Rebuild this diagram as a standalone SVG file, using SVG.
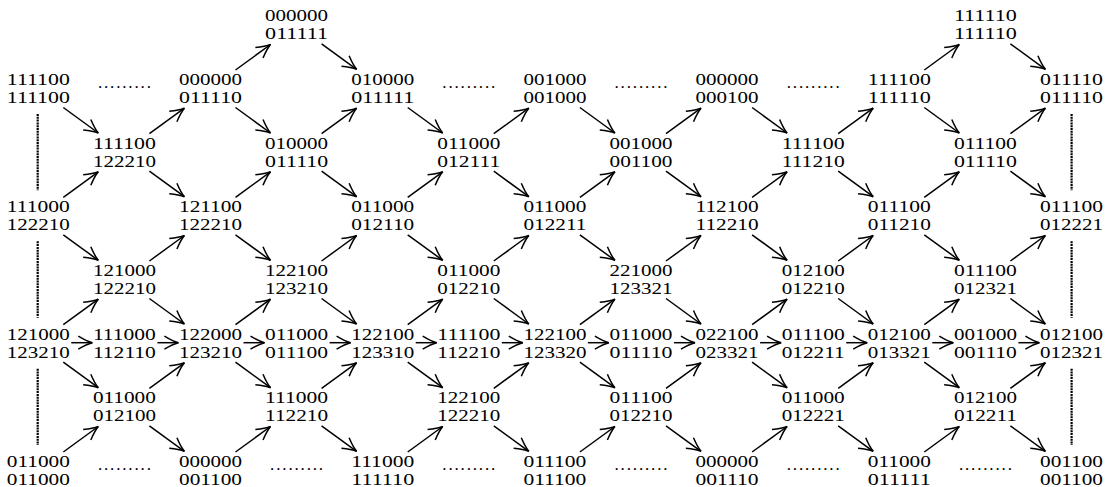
<svg xmlns="http://www.w3.org/2000/svg" xmlns:xlink="http://www.w3.org/1999/xlink" width="1107" height="487" viewBox="0 0 1107 487">
<style>
text{font-family:"Liberation Serif","DejaVu Serif",serif;font-size:17px;fill:#000;text-anchor:middle}
.e{stroke:#000;stroke-width:1.5;fill:none;marker-end:url(#ah)}
.d{stroke:#000;stroke-width:2.2;stroke-dasharray:2 0.8;fill:none}
</style>
<defs>
<marker id="ah" viewBox="-16 -8 18 16" markerWidth="18" markerHeight="16" refX="0" refY="0" orient="auto" markerUnits="userSpaceOnUse">
<path d="M-14,-6.5 Q-5.5,-1.4 0,0 Q-5.5,1.4 -14,6.5" fill="none" stroke="#000" stroke-width="1.5"/>
</marker>
<line id="dn" class="e" x1="25" y1="22.5" x2="60" y2="48"/>
<line id="up" class="e" x1="25" y1="-15" x2="60" y2="-40.5"/>
<line id="hz" class="e" x1="33" y1="3" x2="54" y2="3"/>
</defs>
<rect width="1107" height="487" fill="#fff"/>
<g id="connectors">
<line class="d" x1="37.7" y1="114" x2="37.7" y2="190.3"/>
<line class="d" x1="37.7" y1="241.3" x2="37.7" y2="317.7"/>
<line class="d" x1="37.7" y1="368.7" x2="37.7" y2="445"/>
<line class="d" x1="1071.6" y1="114" x2="1071.6" y2="190.3"/>
<line class="d" x1="1071.6" y1="241.3" x2="1071.6" y2="317.7"/>
<line class="d" x1="1071.6" y1="368.7" x2="1071.6" y2="445"/>
<use href="#dn" x="38.3" y="85"/><use href="#dn" x="38.3" y="212.3"/><use href="#dn" x="38.3" y="339.7"/>
<use href="#dn" x="210.5" y="85"/><use href="#dn" x="210.5" y="212.3"/><use href="#dn" x="210.5" y="339.7"/>
<use href="#dn" x="382.7" y="85"/><use href="#dn" x="382.7" y="212.3"/><use href="#dn" x="382.7" y="339.7"/>
<use href="#dn" x="554.9" y="85"/><use href="#dn" x="554.9" y="212.3"/><use href="#dn" x="554.9" y="339.7"/>
<use href="#dn" x="727.1" y="85"/><use href="#dn" x="727.1" y="212.3"/><use href="#dn" x="727.1" y="339.7"/>
<use href="#dn" x="899.3" y="85"/><use href="#dn" x="899.3" y="212.3"/><use href="#dn" x="899.3" y="339.7"/>
<use href="#dn" x="296.6" y="21.3"/><use href="#dn" x="985.4" y="21.3"/>
<use href="#dn" x="124.4" y="148.7"/><use href="#dn" x="124.4" y="276"/><use href="#dn" x="124.4" y="403.3"/>
<use href="#dn" x="296.6" y="148.7"/><use href="#dn" x="296.6" y="276"/><use href="#dn" x="296.6" y="403.3"/>
<use href="#dn" x="468.8" y="148.7"/><use href="#dn" x="468.8" y="276"/><use href="#dn" x="468.8" y="403.3"/>
<use href="#dn" x="641" y="148.7"/><use href="#dn" x="641" y="276"/><use href="#dn" x="641" y="403.3"/>
<use href="#dn" x="813.2" y="148.7"/><use href="#dn" x="813.2" y="276"/><use href="#dn" x="813.2" y="403.3"/>
<use href="#dn" x="985.4" y="148.7"/><use href="#dn" x="985.4" y="276"/><use href="#dn" x="985.4" y="403.3"/>
<use href="#up" x="210.5" y="85"/><use href="#up" x="899.3" y="85"/>
<use href="#up" x="38.3" y="212.3"/><use href="#up" x="38.3" y="339.7"/><use href="#up" x="38.3" y="467"/>
<use href="#up" x="210.5" y="212.3"/><use href="#up" x="210.5" y="339.7"/><use href="#up" x="210.5" y="467"/>
<use href="#up" x="382.7" y="212.3"/><use href="#up" x="382.7" y="339.7"/><use href="#up" x="382.7" y="467"/>
<use href="#up" x="554.9" y="212.3"/><use href="#up" x="554.9" y="339.7"/><use href="#up" x="554.9" y="467"/>
<use href="#up" x="727.1" y="212.3"/><use href="#up" x="727.1" y="339.7"/><use href="#up" x="727.1" y="467"/>
<use href="#up" x="899.3" y="212.3"/><use href="#up" x="899.3" y="339.7"/><use href="#up" x="899.3" y="467"/>
<use href="#up" x="124.4" y="148.7"/><use href="#up" x="124.4" y="276"/><use href="#up" x="124.4" y="403.3"/>
<use href="#up" x="296.6" y="148.7"/><use href="#up" x="296.6" y="276"/><use href="#up" x="296.6" y="403.3"/>
<use href="#up" x="468.8" y="148.7"/><use href="#up" x="468.8" y="276"/><use href="#up" x="468.8" y="403.3"/>
<use href="#up" x="641" y="148.7"/><use href="#up" x="641" y="276"/><use href="#up" x="641" y="403.3"/>
<use href="#up" x="813.2" y="148.7"/><use href="#up" x="813.2" y="276"/><use href="#up" x="813.2" y="403.3"/>
<use href="#up" x="985.4" y="148.7"/><use href="#up" x="985.4" y="276"/><use href="#up" x="985.4" y="403.3"/>
<use href="#hz" x="38.3" y="339.7"/><use href="#hz" x="124.4" y="339.7"/><use href="#hz" x="210.5" y="339.7"/>
<use href="#hz" x="296.6" y="339.7"/><use href="#hz" x="382.7" y="339.7"/><use href="#hz" x="468.8" y="339.7"/>
<use href="#hz" x="554.9" y="339.7"/><use href="#hz" x="641" y="339.7"/><use href="#hz" x="727.1" y="339.7"/>
<use href="#hz" x="813.2" y="339.7"/><use href="#hz" x="899.3" y="339.7"/><use href="#hz" x="985.4" y="339.7"/>
</g>
<g id="dots">
<text x="124.4" y="88" textLength="53" lengthAdjust="spacing">.........</text>
<text x="468.8" y="88" textLength="53" lengthAdjust="spacing">.........</text>
<text x="641" y="88" textLength="53" lengthAdjust="spacing">.........</text>
<text x="813.2" y="88" textLength="53" lengthAdjust="spacing">.........</text>
<text x="124.4" y="470" textLength="53" lengthAdjust="spacing">.........</text>
<text x="296.6" y="470" textLength="53" lengthAdjust="spacing">.........</text>
<text x="468.8" y="470" textLength="53" lengthAdjust="spacing">.........</text>
<text x="641" y="470" textLength="53" lengthAdjust="spacing">.........</text>
<text x="813.2" y="470" textLength="53" lengthAdjust="spacing">.........</text>
<text x="985.4" y="470" textLength="53" lengthAdjust="spacing">.........</text>
</g>
<g id="n3m1"><text x="296.6" y="21.3" textLength="63" lengthAdjust="spacingAndGlyphs">000000</text><text x="296.6" y="39.3" textLength="63" lengthAdjust="spacingAndGlyphs">011111</text></g>
<g id="n11m1"><text x="985.4" y="21.3" textLength="63" lengthAdjust="spacingAndGlyphs">111110</text><text x="985.4" y="39.3" textLength="63" lengthAdjust="spacingAndGlyphs">111110</text></g>
<g id="n0r0"><text x="38.3" y="85" textLength="63" lengthAdjust="spacingAndGlyphs">111100</text><text x="38.3" y="103" textLength="63" lengthAdjust="spacingAndGlyphs">111100</text></g>
<g id="n2r0"><text x="210.5" y="85" textLength="63" lengthAdjust="spacingAndGlyphs">000000</text><text x="210.5" y="103" textLength="63" lengthAdjust="spacingAndGlyphs">011110</text></g>
<g id="n4r0"><text x="382.7" y="85" textLength="63" lengthAdjust="spacingAndGlyphs">010000</text><text x="382.7" y="103" textLength="63" lengthAdjust="spacingAndGlyphs">011111</text></g>
<g id="n6r0"><text x="554.9" y="85" textLength="63" lengthAdjust="spacingAndGlyphs">001000</text><text x="554.9" y="103" textLength="63" lengthAdjust="spacingAndGlyphs">001000</text></g>
<g id="n8r0"><text x="727.1" y="85" textLength="63" lengthAdjust="spacingAndGlyphs">000000</text><text x="727.1" y="103" textLength="63" lengthAdjust="spacingAndGlyphs">000100</text></g>
<g id="n10r0"><text x="899.3" y="85" textLength="63" lengthAdjust="spacingAndGlyphs">111100</text><text x="899.3" y="103" textLength="63" lengthAdjust="spacingAndGlyphs">111110</text></g>
<g id="n12r0"><text x="1071.5" y="85" textLength="63" lengthAdjust="spacingAndGlyphs">011110</text><text x="1071.5" y="103" textLength="63" lengthAdjust="spacingAndGlyphs">011110</text></g>
<g id="n1r1"><text x="124.4" y="148.7" textLength="63" lengthAdjust="spacingAndGlyphs">111100</text><text x="124.4" y="166.7" textLength="63" lengthAdjust="spacingAndGlyphs">122210</text></g>
<g id="n3r1"><text x="296.6" y="148.7" textLength="63" lengthAdjust="spacingAndGlyphs">010000</text><text x="296.6" y="166.7" textLength="63" lengthAdjust="spacingAndGlyphs">011110</text></g>
<g id="n5r1"><text x="468.8" y="148.7" textLength="63" lengthAdjust="spacingAndGlyphs">011000</text><text x="468.8" y="166.7" textLength="63" lengthAdjust="spacingAndGlyphs">012111</text></g>
<g id="n7r1"><text x="641" y="148.7" textLength="63" lengthAdjust="spacingAndGlyphs">001000</text><text x="641" y="166.7" textLength="63" lengthAdjust="spacingAndGlyphs">001100</text></g>
<g id="n9r1"><text x="813.2" y="148.7" textLength="63" lengthAdjust="spacingAndGlyphs">111100</text><text x="813.2" y="166.7" textLength="63" lengthAdjust="spacingAndGlyphs">111210</text></g>
<g id="n11r1"><text x="985.4" y="148.7" textLength="63" lengthAdjust="spacingAndGlyphs">011100</text><text x="985.4" y="166.7" textLength="63" lengthAdjust="spacingAndGlyphs">011110</text></g>
<g id="n0r2"><text x="38.3" y="212.3" textLength="63" lengthAdjust="spacingAndGlyphs">111000</text><text x="38.3" y="230.3" textLength="63" lengthAdjust="spacingAndGlyphs">122210</text></g>
<g id="n2r2"><text x="210.5" y="212.3" textLength="63" lengthAdjust="spacingAndGlyphs">121100</text><text x="210.5" y="230.3" textLength="63" lengthAdjust="spacingAndGlyphs">122210</text></g>
<g id="n4r2"><text x="382.7" y="212.3" textLength="63" lengthAdjust="spacingAndGlyphs">011000</text><text x="382.7" y="230.3" textLength="63" lengthAdjust="spacingAndGlyphs">012110</text></g>
<g id="n6r2"><text x="554.9" y="212.3" textLength="63" lengthAdjust="spacingAndGlyphs">011000</text><text x="554.9" y="230.3" textLength="63" lengthAdjust="spacingAndGlyphs">012211</text></g>
<g id="n8r2"><text x="727.1" y="212.3" textLength="63" lengthAdjust="spacingAndGlyphs">112100</text><text x="727.1" y="230.3" textLength="63" lengthAdjust="spacingAndGlyphs">112210</text></g>
<g id="n10r2"><text x="899.3" y="212.3" textLength="63" lengthAdjust="spacingAndGlyphs">011100</text><text x="899.3" y="230.3" textLength="63" lengthAdjust="spacingAndGlyphs">011210</text></g>
<g id="n12r2"><text x="1071.5" y="212.3" textLength="63" lengthAdjust="spacingAndGlyphs">011100</text><text x="1071.5" y="230.3" textLength="63" lengthAdjust="spacingAndGlyphs">012221</text></g>
<g id="n1r3"><text x="124.4" y="276" textLength="63" lengthAdjust="spacingAndGlyphs">121000</text><text x="124.4" y="294" textLength="63" lengthAdjust="spacingAndGlyphs">122210</text></g>
<g id="n3r3"><text x="296.6" y="276" textLength="63" lengthAdjust="spacingAndGlyphs">122100</text><text x="296.6" y="294" textLength="63" lengthAdjust="spacingAndGlyphs">123210</text></g>
<g id="n5r3"><text x="468.8" y="276" textLength="63" lengthAdjust="spacingAndGlyphs">011000</text><text x="468.8" y="294" textLength="63" lengthAdjust="spacingAndGlyphs">012210</text></g>
<g id="n7r3"><text x="641" y="276" textLength="63" lengthAdjust="spacingAndGlyphs">221000</text><text x="641" y="294" textLength="63" lengthAdjust="spacingAndGlyphs">123321</text></g>
<g id="n9r3"><text x="813.2" y="276" textLength="63" lengthAdjust="spacingAndGlyphs">012100</text><text x="813.2" y="294" textLength="63" lengthAdjust="spacingAndGlyphs">012210</text></g>
<g id="n11r3"><text x="985.4" y="276" textLength="63" lengthAdjust="spacingAndGlyphs">011100</text><text x="985.4" y="294" textLength="63" lengthAdjust="spacingAndGlyphs">012321</text></g>
<g id="n0r4"><text x="38.3" y="339.7" textLength="63" lengthAdjust="spacingAndGlyphs">121000</text><text x="38.3" y="357.7" textLength="63" lengthAdjust="spacingAndGlyphs">123210</text></g>
<g id="n1r4"><text x="124.4" y="339.7" textLength="63" lengthAdjust="spacingAndGlyphs">111000</text><text x="124.4" y="357.7" textLength="63" lengthAdjust="spacingAndGlyphs">112110</text></g>
<g id="n2r4"><text x="210.5" y="339.7" textLength="63" lengthAdjust="spacingAndGlyphs">122000</text><text x="210.5" y="357.7" textLength="63" lengthAdjust="spacingAndGlyphs">123210</text></g>
<g id="n3r4"><text x="296.6" y="339.7" textLength="63" lengthAdjust="spacingAndGlyphs">011000</text><text x="296.6" y="357.7" textLength="63" lengthAdjust="spacingAndGlyphs">011100</text></g>
<g id="n4r4"><text x="382.7" y="339.7" textLength="63" lengthAdjust="spacingAndGlyphs">122100</text><text x="382.7" y="357.7" textLength="63" lengthAdjust="spacingAndGlyphs">123310</text></g>
<g id="n5r4"><text x="468.8" y="339.7" textLength="63" lengthAdjust="spacingAndGlyphs">111100</text><text x="468.8" y="357.7" textLength="63" lengthAdjust="spacingAndGlyphs">112210</text></g>
<g id="n6r4"><text x="554.9" y="339.7" textLength="63" lengthAdjust="spacingAndGlyphs">122100</text><text x="554.9" y="357.7" textLength="63" lengthAdjust="spacingAndGlyphs">123320</text></g>
<g id="n7r4"><text x="641" y="339.7" textLength="63" lengthAdjust="spacingAndGlyphs">011000</text><text x="641" y="357.7" textLength="63" lengthAdjust="spacingAndGlyphs">011110</text></g>
<g id="n8r4"><text x="727.1" y="339.7" textLength="63" lengthAdjust="spacingAndGlyphs">022100</text><text x="727.1" y="357.7" textLength="63" lengthAdjust="spacingAndGlyphs">023321</text></g>
<g id="n9r4"><text x="813.2" y="339.7" textLength="63" lengthAdjust="spacingAndGlyphs">011100</text><text x="813.2" y="357.7" textLength="63" lengthAdjust="spacingAndGlyphs">012211</text></g>
<g id="n10r4"><text x="899.3" y="339.7" textLength="63" lengthAdjust="spacingAndGlyphs">012100</text><text x="899.3" y="357.7" textLength="63" lengthAdjust="spacingAndGlyphs">013321</text></g>
<g id="n11r4"><text x="985.4" y="339.7" textLength="63" lengthAdjust="spacingAndGlyphs">001000</text><text x="985.4" y="357.7" textLength="63" lengthAdjust="spacingAndGlyphs">001110</text></g>
<g id="n12r4"><text x="1071.5" y="339.7" textLength="63" lengthAdjust="spacingAndGlyphs">012100</text><text x="1071.5" y="357.7" textLength="63" lengthAdjust="spacingAndGlyphs">012321</text></g>
<g id="n1r5"><text x="124.4" y="403.3" textLength="63" lengthAdjust="spacingAndGlyphs">011000</text><text x="124.4" y="421.3" textLength="63" lengthAdjust="spacingAndGlyphs">012100</text></g>
<g id="n3r5"><text x="296.6" y="403.3" textLength="63" lengthAdjust="spacingAndGlyphs">111000</text><text x="296.6" y="421.3" textLength="63" lengthAdjust="spacingAndGlyphs">112210</text></g>
<g id="n5r5"><text x="468.8" y="403.3" textLength="63" lengthAdjust="spacingAndGlyphs">122100</text><text x="468.8" y="421.3" textLength="63" lengthAdjust="spacingAndGlyphs">122210</text></g>
<g id="n7r5"><text x="641" y="403.3" textLength="63" lengthAdjust="spacingAndGlyphs">011100</text><text x="641" y="421.3" textLength="63" lengthAdjust="spacingAndGlyphs">012210</text></g>
<g id="n9r5"><text x="813.2" y="403.3" textLength="63" lengthAdjust="spacingAndGlyphs">011000</text><text x="813.2" y="421.3" textLength="63" lengthAdjust="spacingAndGlyphs">012221</text></g>
<g id="n11r5"><text x="985.4" y="403.3" textLength="63" lengthAdjust="spacingAndGlyphs">012100</text><text x="985.4" y="421.3" textLength="63" lengthAdjust="spacingAndGlyphs">012211</text></g>
<g id="n0r6"><text x="38.3" y="467" textLength="63" lengthAdjust="spacingAndGlyphs">011000</text><text x="38.3" y="485" textLength="63" lengthAdjust="spacingAndGlyphs">011000</text></g>
<g id="n2r6"><text x="210.5" y="467" textLength="63" lengthAdjust="spacingAndGlyphs">000000</text><text x="210.5" y="485" textLength="63" lengthAdjust="spacingAndGlyphs">001100</text></g>
<g id="n4r6"><text x="382.7" y="467" textLength="63" lengthAdjust="spacingAndGlyphs">111000</text><text x="382.7" y="485" textLength="63" lengthAdjust="spacingAndGlyphs">111110</text></g>
<g id="n6r6"><text x="554.9" y="467" textLength="63" lengthAdjust="spacingAndGlyphs">011100</text><text x="554.9" y="485" textLength="63" lengthAdjust="spacingAndGlyphs">011100</text></g>
<g id="n8r6"><text x="727.1" y="467" textLength="63" lengthAdjust="spacingAndGlyphs">000000</text><text x="727.1" y="485" textLength="63" lengthAdjust="spacingAndGlyphs">001110</text></g>
<g id="n10r6"><text x="899.3" y="467" textLength="63" lengthAdjust="spacingAndGlyphs">011000</text><text x="899.3" y="485" textLength="63" lengthAdjust="spacingAndGlyphs">011111</text></g>
<g id="n12r6"><text x="1071.5" y="467" textLength="63" lengthAdjust="spacingAndGlyphs">001100</text><text x="1071.5" y="485" textLength="63" lengthAdjust="spacingAndGlyphs">001100</text></g>
</svg>
